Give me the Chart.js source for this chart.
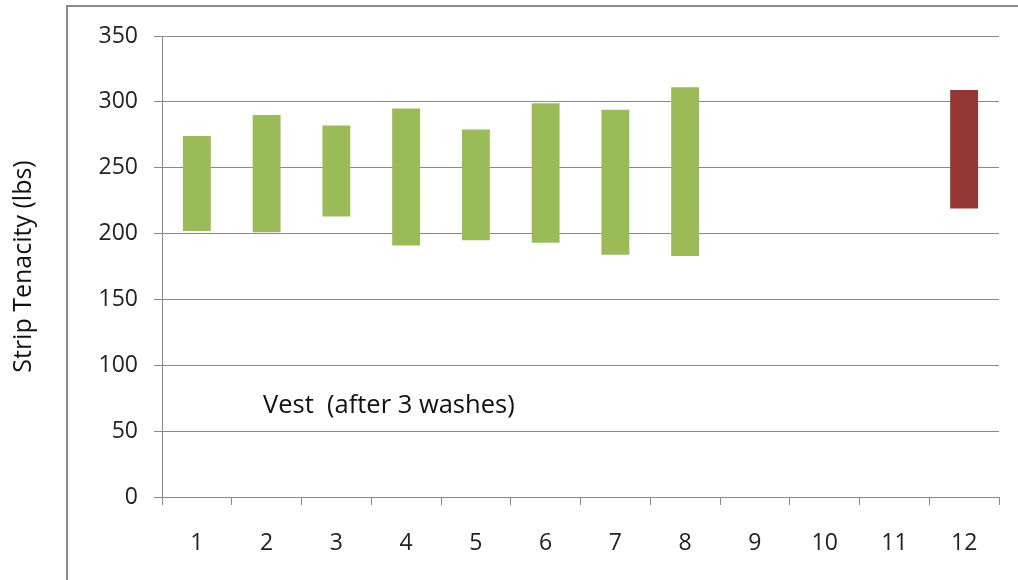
<!DOCTYPE html>
<html>
<head>
<meta charset="utf-8">
<script src="https://cdn.jsdelivr.net/npm/chart.js@4"></script>
<style>
	html, body { margin: 0; padding: 0; background: #fff; }
	#wrap { width: 1018px; height: 580px; }
</style>
</head>
<body>
<div id="wrap"><canvas id="myChart" width="1018" height="580"></canvas></div>
<script>
// sample number on the x axis
const samples = ['1','2','3','4','5','6','7','8','9','10','11','12'];
// low / high strip tenacity (lbs) for each sample, null = no bar
const lows  = [202, 201, 213, 191, 195, 193, 184, 183, null, null, null, 219];
const highs = [274, 290, 282, 295, 279, 299, 294, 311, null, null, null, 309];
// the sample drawn in red
const refSample = '12';
const yTicks = [0, 50, 100, 150, 200, 250, 300, 350];

const green = '#9bbb59';
const red = '#953735';
const gray = '#8a8a8a';

let ranges = samples.map((s, i) => lows[i] == null ? null : [lows[i], highs[i]]);
let colors = samples.map(s => s == refSample ? red : green);

// frame round the chart and the note text
const extras = {
	id: 'extras',
	beforeDraw(chart) {
		let ctx = chart.ctx;
		ctx.save();
		ctx.fillStyle = '#fff';
		ctx.fillRect(0, 0, chart.width, chart.height);
		ctx.strokeStyle = gray;
		ctx.lineWidth = 2;
		ctx.strokeRect(67, 6, 1020, 600);
		ctx.restore();
	},
	afterDraw(chart) {
		let ctx = chart.ctx;
		ctx.save();
		ctx.font = '25.5px "Open Sans"';
		ctx.fillStyle = '#111';
		ctx.textBaseline = 'alphabetic';
		ctx.fillText('Vest  (after 3 washes)', 263, 413);
		ctx.restore();
	}
};

let ctx = document.getElementById('myChart');
let myChart = new Chart(ctx, {
	type: 'bar',
	data: {
		labels: samples,
		datasets: [{
			label: 'Strip Tenacity',
			data: ranges,
			backgroundColor: colors,
			borderWidth: 0,
			categoryPercentage: 1,
			barPercentage: 0.4
		}]
	},
	options: {
		responsive: false,
		animation: false,
		layout: { padding: { left: 0, right: 19, top: 36, bottom: 0 } },
		plugins: {
			legend: { display: false },
			tooltip: { enabled: false }
		},
		scales: {
			x: {
				grid: { offset: true, drawOnChartArea: false, drawTicks: true, tickLength: 8, color: gray },
				border: { color: gray },
				ticks: { color: '#222', padding: 25, font: { family: 'Open Sans', size: 23 } },
				afterFit(scale) { scale.height = 83; }
			},
			y: {
				min: 0,
				max: 350,
				afterBuildTicks(scale) { scale.ticks = yTicks.map(v => ({ value: v })); },
				grid: { color: gray, tickLength: 8 },
				border: { color: gray },
				ticks: { color: '#222', padding: 16, font: { family: 'Open Sans', size: 23 } },
				title: {
					display: true,
					text: 'Strip Tenacity (lbs)',
					color: '#111',
					font: { family: 'Open Sans', size: 25 },
					padding: { top: 9, bottom: 0 }
				},
				afterFit(scale) { scale.width = 162; }
			}
		}
	},
	plugins: [extras]
});
</script>
</body>
</html>
